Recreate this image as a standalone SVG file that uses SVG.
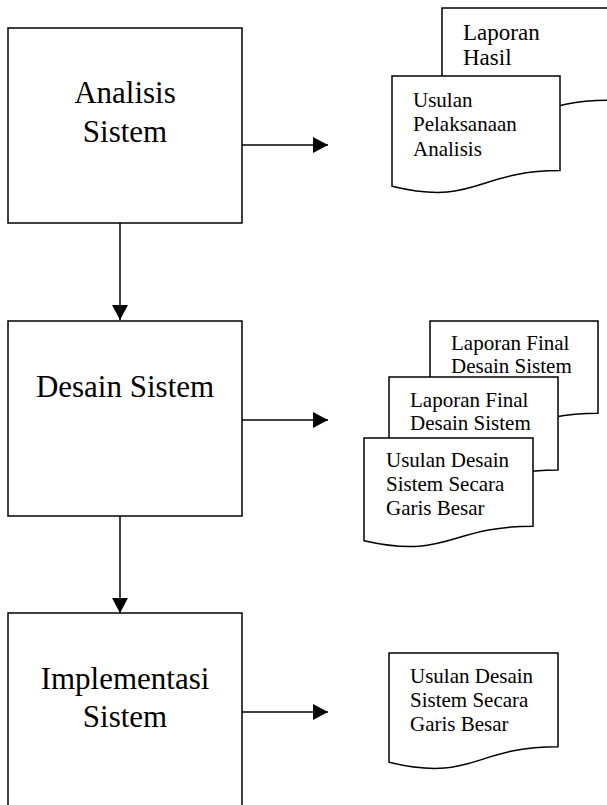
<svg xmlns="http://www.w3.org/2000/svg" width="607" height="805" viewBox="0 0 607 805">
<defs>
<style>
.box{fill:#fff;stroke:#000;stroke-width:1.5}
.doc{fill:#fff;stroke:#000;stroke-width:1.5;stroke-linejoin:miter}
.big{font-family:"Liberation Serif","Times New Roman",serif;font-size:31px;fill:#000;text-anchor:middle}
.sm{font-family:"Liberation Serif","Times New Roman",serif;font-size:21px;fill:#000}
.md{font-family:"Liberation Serif","Times New Roman",serif;font-size:23px;fill:#000}
.con{stroke:#000;stroke-width:1.5;fill:none}
</style>
<marker id="ah" viewBox="0 0 15 16" refX="15" refY="8" markerWidth="15" markerHeight="16" markerUnits="userSpaceOnUse" orient="auto">
<path d="M0,0 L15,8 L0,16 Z" fill="#000"/>
</marker>
</defs>
<rect width="607" height="805" fill="#fff"/>
<g id="analisis">
<rect class="box" x="8" y="28" width="234" height="195"/>
<text class="big" x="125" y="103">Analisis</text>
<text class="big" x="125" y="142">Sistem</text>
</g>
<g id="desain">
<rect class="box" x="8" y="321" width="234" height="195"/>
<text class="big" x="125" y="397">Desain Sistem</text>
</g>
<g id="implementasi">
<rect class="box" x="8" y="613" width="234" height="220"/>
<text class="big" x="125" y="689">Implementasi</text>
<text class="big" x="125" y="727">Sistem</text>
</g>
<g id="doc-laporan-hasil">
<path class="doc" d="M442,8 H610 V100.2 C526,100.2 526,135.3 442,115.4 Z"/>
<text class="md" x="463" y="40">Laporan</text>
<text class="md" x="463" y="65">Hasil</text>
</g>
<g id="doc-usulan-pelaksanaan">
<path class="doc" d="M392,76 H560 V170.6 C476,170.6 476,206.6 392,186.2 Z"/>
<text class="sm" x="413" y="107">Usulan</text>
<text class="sm" x="413" y="131">Pelaksanaan</text>
<text class="sm" x="413" y="156">Analisis</text>
</g>
<g id="doc-laporan-final-1">
<path class="doc" d="M430,321 H598 V413.2 C514,413.2 514,448.3 430,428.4 Z"/>
<text class="sm" x="451" y="350">Laporan Final</text>
<text class="sm" x="451" y="373">Desain Sistem</text>
</g>
<g id="doc-laporan-final-2">
<path class="doc" d="M389,377 H558 V470 C473.5,470 473.5,505.4 389,485.3 Z"/>
<text class="sm" x="410" y="407">Laporan Final</text>
<text class="sm" x="410" y="430">Desain Sistem</text>
</g>
<g id="doc-usulan-desain-1">
<path class="doc" d="M364,438 H533 V526.2 C448.5,526.2 448.5,559.8 364,540.7 Z"/>
<text class="sm" x="386" y="467">Usulan Desain</text>
<text class="sm" x="386" y="491">Sistem Secara</text>
<text class="sm" x="386" y="515">Garis Besar</text>
</g>
<g id="doc-usulan-desain-2">
<path class="doc" d="M389,653 H558 V746.8 C473.5,746.8 473.5,782.5 389,762.3 Z"/>
<text class="sm" x="410" y="683">Usulan Desain</text>
<text class="sm" x="410" y="707">Sistem Secara</text>
<text class="sm" x="410" y="731">Garis Besar</text>
</g>
<g id="connectors">
<line class="con" x1="120" y1="223" x2="120" y2="320" marker-end="url(#ah)"/>
<line class="con" x1="120" y1="516" x2="120" y2="613" marker-end="url(#ah)"/>
<line class="con" x1="242" y1="145" x2="328" y2="145" marker-end="url(#ah)"/>
<line class="con" x1="242" y1="420" x2="328" y2="420" marker-end="url(#ah)"/>
<line class="con" x1="242" y1="712" x2="328" y2="712" marker-end="url(#ah)"/>
</g>
</svg>
